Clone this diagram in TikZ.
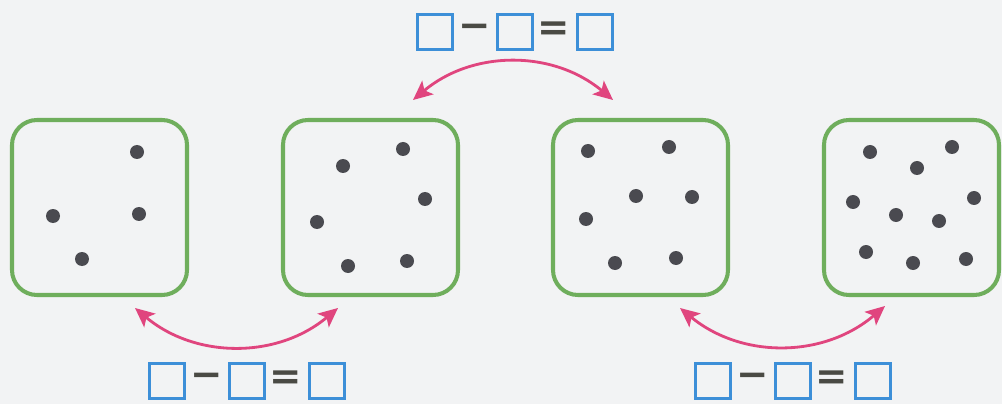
\documentclass[tikz,border=0pt]{standalone}
\usepackage{fontspec}
\newfontfamily\signfont{DejaVu Sans}
\usetikzlibrary{arrows.meta}
\definecolor{cBg}{HTML}{F2F3F4}
\definecolor{cBox}{HTML}{6FAE5C}
\definecolor{cDot}{HTML}{4A4A50}
\definecolor{cArr}{HTML}{E0457E}
\definecolor{cSq}{HTML}{3D8FD8}
\definecolor{cInk}{HTML}{4A4A44}
\tikzset{
  every node/.style={text=cInk},
  grp/.style={draw=cBox, line width=2.3pt, rounded corners=0.5cm, minimum width=3.5cm, minimum height=3.5cm, inner sep=0pt},
  dot/.style={circle, fill=cDot, minimum size=0.28cm, inner sep=0pt},
  blank/.style={draw=cSq, line width=1.6pt, minimum size=0.7cm, inner sep=0pt},
  sign/.style={font=\signfont\bfseries\fontsize{22}{22}\selectfont, inner sep=0pt},
  link/.style={{Stealth[length=11pt,width=10pt,inset=2.5pt]}-{Stealth[length=11pt,width=10pt,inset=2.5pt]}, line width=1.6pt, draw=cArr},
}
\newcommand{\blanks}[3]{%
\begin{scope}[shift={(#2,#3)}]
\node[blank] (#1a) at (-1.6,0) {};
\node[sign] (#1m) at (-0.8,0.02) {−};
\node[blank] (#1b) at (0,0) {};
\node[sign] (#1e) at (0.78,0.02) {=};
\node[blank] (#1c) at (1.6,0) {};
\end{scope}}

\begin{document}
\begin{tikzpicture}
\useasboundingbox (0,0) rectangle (20.04,8.08);
\fill[cBg] (0,0) rectangle (20.04,8.08);
% dot groups
\node[grp] (g1) at (1.99,3.93) {};
\node[grp] (g2) at (7.41,3.93) {};
\node[grp] (g3) at (12.81,3.93) {};
\node[grp] (g4) at (18.23,3.93) {};
\foreach \x/\y [count=\i] in {2.74/5.04, 1.06/3.76, 2.78/3.80, 1.64/2.90}
  \node[dot] (a\i) at (\x,\y) {};
\foreach \x/\y [count=\i] in {6.86/4.76, 8.06/5.10, 8.50/4.10, 6.34/3.64, 6.96/2.76, 8.14/2.86}
  \node[dot] (b\i) at (\x,\y) {};
\foreach \x/\y [count=\i] in {11.76/5.06, 13.38/5.14, 12.72/4.16, 13.84/4.14, 11.72/3.70, 12.30/2.82, 13.52/2.92}
  \node[dot] (c\i) at (\x,\y) {};
\foreach \x/\y [count=\i] in {17.40/5.04, 19.04/5.14, 18.34/4.72, 17.06/4.04, 19.48/4.12, 17.92/3.78, 18.78/3.66, 17.32/3.04, 18.26/2.82, 19.32/2.90}
  \node[dot] (d\i) at (\x,\y) {};
% links
\coordinate (l12) at (2.70,1.92);
\coordinate (r12) at (6.76,1.92);
\coordinate (l23) at (8.26,6.08);
\coordinate (r23) at (12.26,6.08);
\coordinate (l34) at (13.60,1.92);
\coordinate (r34) at (17.70,1.96);
\draw[link] (l12) to[bend right=40] (r12);
\draw[link] (l23) to[bend left=40] (r23);
\draw[link] (l34) to[bend right=40] (r34);
% equations
\blanks{top}{10.30}{7.44}
\blanks{left}{4.94}{0.46}
\blanks{right}{15.86}{0.46}
\end{tikzpicture}
\end{document}
